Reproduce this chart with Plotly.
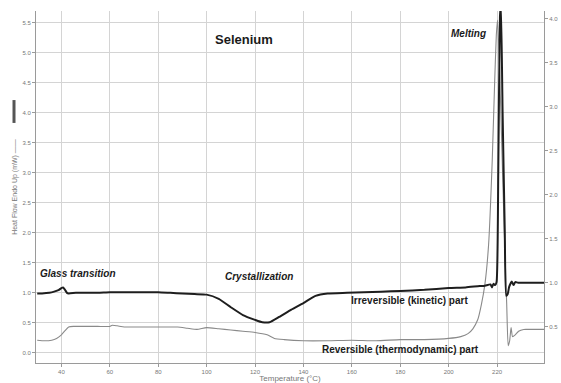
import plotly.graph_objects as go

# Irreversible (kinetic) part - black curve
irr_x = [30, 32, 35, 37, 39, 40, 40.7, 41.5, 42.3, 43, 46, 50, 55, 60, 65, 70, 75, 80, 85, 90, 95,
         100, 105, 110, 115, 120, 123, 126, 130, 135, 140, 145, 150, 158, 165, 172, 180, 190, 200,
         207, 212, 215, 217.3, 217.9, 218.5, 219.2, 219.8, 220.5, 221.2, 221.6, 222.3, 223.2, 223.8,
         224.4, 225, 226.1, 226.8, 227.5, 228.7, 235, 239.5]
irr_y = [0.99, 0.99, 1.0, 1.02, 1.05, 1.08, 1.09, 1.05, 1.0, 0.99, 1.0, 1.0, 1.0, 1.01, 1.01, 1.01, 1.01,
         1.01, 1.0, 0.99, 0.98, 0.97, 0.9, 0.76, 0.63, 0.55, 0.51, 0.51, 0.6, 0.72, 0.83, 0.95, 0.99,
         1.0, 1.01, 1.02, 1.03, 1.05, 1.08, 1.09, 1.11, 1.12, 1.14, 1.09, 1.15, 1.13, 1.18, 3.0, 5.6,
         5.8, 4.0, 2.0, 0.95, 0.98, 1.1, 1.19, 1.13, 1.18, 1.17, 1.17, 1.17]

# Reversible (thermodynamic) part - gray curve
rev_x = [30, 33, 36, 38, 40, 41.5, 43, 45, 50, 55, 60, 61, 63, 66, 70, 80, 88, 92, 96, 100, 105, 110,
         115, 120, 125, 128, 132, 140, 150, 160, 170, 180, 190, 200, 205, 208, 210, 212, 213.5, 215,
         216.5, 218, 219, 219.7, 220.2, 221, 222, 223, 224, 224.6, 225.2, 225.8, 226.4, 227.5, 228.9,
         231, 234, 239.5]
rev_y = [0.21, 0.2, 0.21, 0.24, 0.3, 0.37, 0.43, 0.44, 0.44, 0.44, 0.44, 0.46, 0.45, 0.43, 0.43, 0.43,
         0.43, 0.41, 0.39, 0.42, 0.4, 0.38, 0.36, 0.34, 0.3, 0.24, 0.22, 0.2, 0.2, 0.21, 0.2, 0.22, 0.22,
         0.24, 0.27, 0.32, 0.4, 0.55, 0.8, 1.15, 1.8, 3.2, 4.5, 5.3, 5.55, 4.8, 3.4, 2.0, 0.8, 0.12,
         0.2, 0.42, 0.27, 0.3, 0.36, 0.39, 0.39, 0.39]

x_ticks = [40, 60, 80, 100, 120, 140, 160, 180, 200, 220]

FONT = "Liberation Sans, Arial, sans-serif"

fig = go.Figure()
fig.add_trace(go.Scatter(x=rev_x, y=rev_y, mode="lines",
                         line=dict(color="#8a8a8a", width=1.1, shape="spline", smoothing=0.5),
                         showlegend=False))
fig.add_trace(go.Scatter(x=irr_x, y=irr_y, mode="lines",
                         line=dict(color="#1e1e1e", width=2, shape="spline", smoothing=0.5),
                         showlegend=False))
# invisible trace to anchor the right-hand axis
fig.add_trace(go.Scatter(x=[100], y=[1.0], yaxis="y2", mode="markers",
                         marker=dict(opacity=0), showlegend=False, hoverinfo="skip"))

tickfont = dict(family=FONT, size=6, color="#777")

fig.update_layout(
    width=561, height=383,
    margin=dict(l=36, r=17, t=11, b=20, autoexpand=False),
    plot_bgcolor="white", paper_bgcolor="white",
    font=dict(family=FONT),
    xaxis=dict(range=[29.5, 239.4], tickvals=x_ticks, showgrid=True, gridcolor="#d4d4d4",
               gridwidth=1, showline=True, linecolor="#9a9a9a", linewidth=1,
               ticks="outside", ticklen=3, tickcolor="#9a9a9a", tickfont=tickfont,
               zeroline=False, automargin=False,
               title=dict(text="Temperature (°C)", font=dict(family=FONT, size=8, color="#777"),
                          standoff=2)),
    yaxis=dict(range=[-0.17, 5.7], dtick=0.5, tick0=0, tickformat=".1f", showgrid=True,
               gridcolor="#d4d4d4", gridwidth=1, showline=True, linecolor="#9a9a9a",
               ticks="outside", ticklen=3, tickcolor="#9a9a9a", tickfont=tickfont, zeroline=False,
               automargin=False,
               title=dict(text="Heat Flow Endo Up (mW) ——", font=dict(family=FONT, size=7, color="#777"),
                          standoff=4)),
    yaxis2=dict(range=[0.09, 4.09], dtick=0.5, tick0=0, tickformat=".1f", overlaying="y",
                side="right", showgrid=False, showline=True, linecolor="#9a9a9a",
                ticks="outside", ticklen=3, tickcolor="#9a9a9a", tickfont=tickfont, zeroline=False,
                automargin=False),
)

fig.add_shape(type="line", xref="paper", yref="paper", x0=-0.0433, x1=-0.0433, y0=0.682, y1=0.747,
              line=dict(color="#555", width=3))

ann_font = dict(family=FONT, size=10, color="#1a1a1a")
fig.add_annotation(x=115.6, y=5.22, text="<b>Selenium</b>", showarrow=False,
                   font=dict(family=FONT, size=13, color="#1a1a1a"))
fig.add_annotation(x=208.4, y=5.33, text="<b><i>Melting</i></b>", showarrow=False, font=ann_font)
fig.add_annotation(x=46.7, y=1.32, text="<b><i>Glass transition</i></b>", showarrow=False, font=ann_font)
fig.add_annotation(x=121.8, y=1.28, text="<b><i>Crystallization</i></b>", showarrow=False, font=ann_font)
fig.add_annotation(x=184.0, y=0.88, text="<b>Irreversible (kinetic) part</b>", showarrow=False, font=ann_font)
fig.add_annotation(x=180.3, y=0.05, text="<b>Reversible (thermodynamic) part</b>", showarrow=False, font=ann_font)

fig.write_html("out.html")
